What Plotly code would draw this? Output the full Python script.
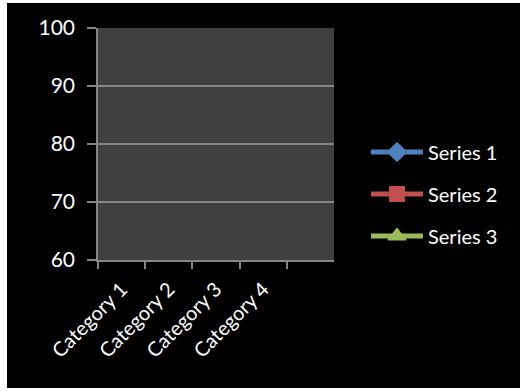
import plotly.graph_objects as go

categories = ["Category 1", "Category 2", "Category 3", "Category 4"]
axis_slots = ["Category 1", "Category 2", "Category 3", "Category 4", " "]
series1 = [4.3, 2.5, 3.5, 4.5]
series2 = [2.4, 4.4, 1.8, 2.8]
series3 = [2.0, 2.0, 3.0, 5.0]
series_names = ["Series 1", "Series 2", "Series 3"]
colors = ["#4F81BD", "#C0504D", "#9BBB59"]
symbols = ["diamond", "square", "triangle-up"]
marker_sizes = [15, 15, 17]
y_ticks = [60, 70, 80, 90, 100]

W, H = 520, 391
ml, mr, mt, mb = 98, 186, 28, 131
pw, ph = W - ml - mr, H - mt - mb

fig = go.Figure()
for name, vals, col, sym, ms in zip(series_names, [series1, series2, series3], colors, symbols, marker_sizes):
    fig.add_trace(go.Scatter(
        x=categories, y=vals, name=name, mode="lines+markers",
        line=dict(color=col, width=5),
        marker=dict(symbol=sym, size=ms, color=col, line=dict(color=col, width=1)),
        legendgroup=name, cliponaxis=True,
    ))

def px_x(p):
    return (p - ml) / pw

def px_y(p):
    return (H - mb - p) / ph

shapes = [
    dict(type="rect", xref="paper", yref="paper", x0=px_x(0), x1=px_x(7), y0=px_y(0), y1=px_y(H), fillcolor="white", line=dict(width=0), layer="below"),
    dict(type="rect", xref="paper", yref="paper", x0=px_x(0), x1=px_x(W), y0=px_y(0), y1=px_y(3), fillcolor="white", line=dict(width=0), layer="below"),
    dict(type="rect", xref="paper", yref="paper", x0=px_x(0), x1=px_x(W), y0=px_y(388), y1=px_y(H), fillcolor="white", line=dict(width=0), layer="below"),
]

fam = "Lato, 'Open Sans', sans-serif"
font = dict(family=fam, size=20, color="white")

fig.update_layout(
    width=W, height=H,
    margin=dict(l=ml, r=mr, t=mt, b=mb, pad=0),
    paper_bgcolor="black", plot_bgcolor="#404040",
    font=font,
    shapes=shapes,
    showlegend=True,
    legend=dict(x=px_x(366), y=px_y(194), xanchor="left", yanchor="middle",
                bgcolor="rgba(0,0,0,0)", font=dict(family=fam, size=20, color="white"),
                itemwidth=52, tracegroupgap=13, traceorder="grouped"),
    xaxis=dict(type="category", categoryorder="array", categoryarray=axis_slots,
               range=[-0.5, 4.5], tickson="boundaries", ticks="outside", ticklen=7,
               tickcolor="#868686", tickwidth=1.5, showline=True, linecolor="#868686",
               linewidth=1.5, showgrid=False, tickangle=-45, zeroline=False,
               tickvals=categories, ticktext=categories, fixedrange=True,
               tickfont=dict(family=fam, size=20, color="white"), ticklabelstandoff=8),
    yaxis=dict(range=[60, 100], tickvals=y_ticks, ticks="outside", ticklen=9,
               tickcolor="#868686", tickwidth=1.5, showline=True, linecolor="#868686",
               linewidth=1.5, showgrid=True, gridcolor="#868686", gridwidth=1.5,
               zeroline=False, ticklabelstandoff=8,
               tickfont=dict(family=fam, size=21, color="white")),
)

fig.write_html("out.html")
